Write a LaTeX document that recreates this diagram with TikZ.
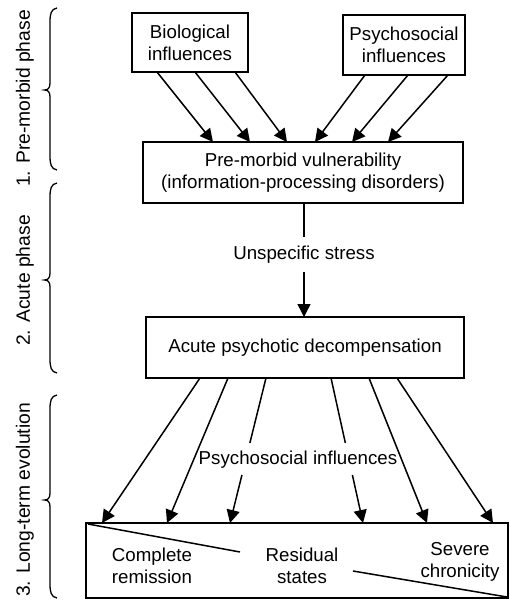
\documentclass[tikz,border=0pt]{standalone}
\usepackage{fontspec}
\setmainfont{Liberation Sans}
\usetikzlibrary{arrows.meta,calc}
\newcommand{\mybrace}[3]{%
  \draw[bracestyle] (57,#1) .. controls (51,#1+1) and (50,#1+6) .. (50,#1+14)
    -- (50,#2-7) .. controls (50,#2-2) and (48,#2) .. (44.5,#2)
    .. controls (48,#2) and (50,#2+2) .. (50,#2+7)
    -- (50,#3-14) .. controls (50,#3-6) and (51,#3-1) .. (57,#3);}
\begin{document}
\begin{tikzpicture}[x=1pt,y=-1pt,
  every node/.style={font=\fontsize{18.7}{22}\selectfont},
  box/.style={draw,line width=1.5pt,inner sep=0pt,align=center},
  conn/.style={line width=1.5pt},
  arr/.style={line width=1.5pt,-{Triangle[length=13pt,width=13pt]}},
  bracestyle/.style={line width=1.3pt},
  txt/.style={inner sep=1pt,align=center},
  phase/.style={rotate=90,inner sep=0pt,font=\fontsize{19.3}{22}\selectfont}]
\useasboundingbox (0,0) rectangle (509,601);
% boxes
\node[box,minimum width=116pt,minimum height=59pt] (bio) at (190,42.5) {Biological\\influences};
\node[box,minimum width=122pt,minimum height=60pt] (psy) at (404,45) {Psychosocial\\influences};
\node[box,minimum width=320pt,minimum height=61pt] (pmv) at (303,172.5) {Pre-morbid vulnerability\\(information-processing disorders)};
\node[box,minimum width=318pt,minimum height=61pt] (acute) at (305,347.5) {Acute psychotic decompensation};
\node[box,minimum width=422pt,minimum height=75pt] (out) at (297,560.5) {};
% outcome texts
\node[txt] (cr) at (152,566) {Complete\\remission};
\node[txt] (rs) at (302,566) {Residual\\states};
\node[txt] (sc) at (460,561.5) {Severe\\chronicity};
\coordinate (d1a) at (88,524); \coordinate (d1b) at (240,552);
\coordinate (d2a) at (353,571); \coordinate (d2b) at (507,597);
\draw[conn] (d1a) -- (d1b);
\draw[conn] (d2a) -- (d2b);
% top arrows
\foreach \i/\sx/\ex in {1/157/213,2/195/250,3/235/287}{
  \coordinate (bs\i) at (\sx,72); \coordinate (be\i) at (\ex,142);
  \draw[arr] (bs\i) -- (be\i);}
\foreach \i/\sx/\ex in {1/365/315,2/408/352,3/448/388}{
  \coordinate (ps\i) at (\sx,75); \coordinate (pe\i) at (\ex,142);
  \draw[arr] (ps\i) -- (pe\i);}
% stress
\node[txt] (stress) at (304,255) {Unspecific stress};
\coordinate (st1) at (304,203); \coordinate (st2) at (304,237);
\coordinate (st3) at (304,272); \coordinate (st4) at (304,317);
\draw[conn] (st1) -- (st2);
\draw[arr] (st3) -- (st4);
% bottom arrows
\node[txt] (psyinf) at (298,460) {Psychosocial influences};
\foreach \i/\sx/\ex in {1/200/102,2/228/167,5/369/427,6/397/493}{
  \coordinate (as\i) at (\sx,378); \coordinate (ae\i) at (\ex,523);
  \draw[arr] (as\i) -- (ae\i);}
\coordinate (as3) at (266,378); \coordinate (ae3) at (230,523);
\coordinate (as4) at (331,378); \coordinate (ae4) at (363,523);
\draw[conn] (as3) -- ($(as3)!0.448!(ae3)$);
\draw[arr] ($(as3)!0.669!(ae3)$) -- (ae3);
\draw[conn] (as4) -- ($(as4)!0.448!(ae4)$);
\draw[arr] ($(as4)!0.669!(ae4)$) -- (ae4);
% braces and phase labels
\mybrace{8}{90}{170}
\mybrace{183}{280}{373}
\mybrace{395}{500}{598}
\node[phase] (ph1) at (25,98.5) {1. Pre-morbid phase};
\node[phase] (ph2) at (25,280.5) {2. Acute phase};
\node[phase] (ph3) at (25,500) {3. Long-term evolution};
\end{tikzpicture}
\end{document}
